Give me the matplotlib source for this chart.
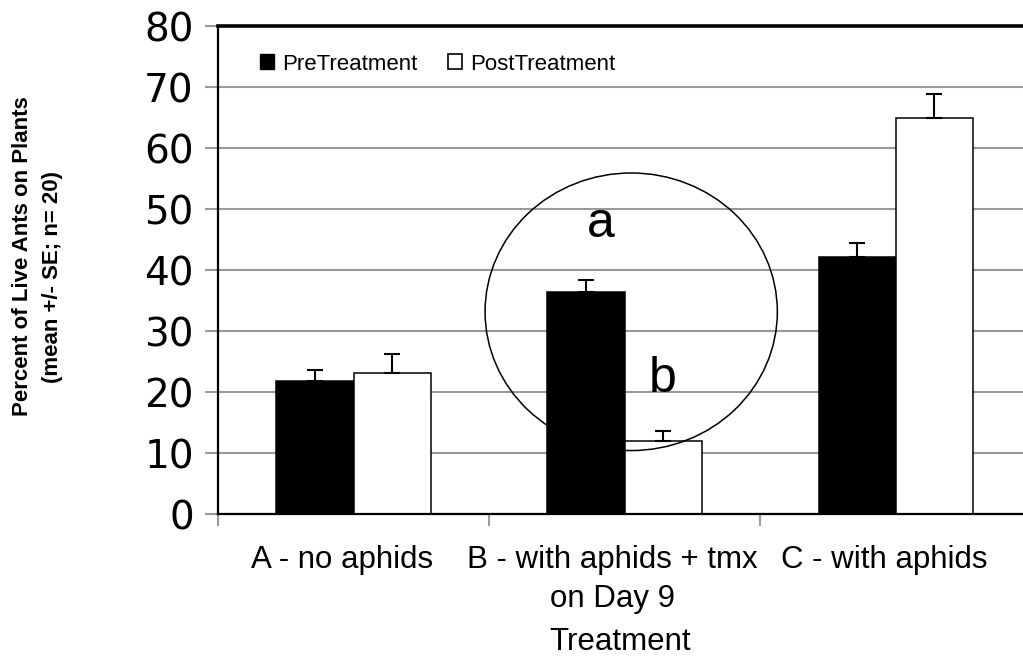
import numpy as np
import matplotlib
matplotlib.use("Agg")
import matplotlib.pyplot as plt
from matplotlib.patches import Patch, Ellipse
from matplotlib.transforms import ScaledTranslation

# ── DATA ──────────────────────────────────────────────────────────────────────
treatments = ["A - no aphids", "B - with aphids + tmx\non Day 9", "C - with aphids"]
pre_mean   = [21.8, 36.5, 42.2]
pre_se     = [1.85, 1.9, 2.2]
post_mean  = [23.1, 12.0, 65.0]
post_se    = [3.2, 1.7, 3.9]
y_ticks    = [0, 10, 20, 30, 40, 50, 60, 70, 80]

# significance letters (x in category units, y = baseline in %)
sig_letters = [("a", 0.913, 45.5), ("b", 1.140, 20.0)]

# ── STYLE ─────────────────────────────────────────────────────────────────────
SANS  = "Liberation Sans"
GRID  = "#999999"
BAR_W = 0.285

fig = plt.figure(figsize=(10.23, 6.67), dpi=100)
ax = fig.add_axes([218 / 1023, 152.7 / 667, 805 / 1023, 488 / 667])

x = np.arange(len(treatments))

ax.bar(x - BAR_W / 2, pre_mean, width=BAR_W, color="black",
       edgecolor="black", linewidth=1.1, zorder=2, label="PreTreatment")
ax.bar(x + BAR_W / 2, post_mean, width=BAR_W, color="white",
       edgecolor="black", linewidth=1.1, zorder=2, label="PostTreatment")

# upper-only standard error bars
ax.errorbar(x - BAR_W / 2, pre_mean, yerr=[np.zeros(3), pre_se], fmt="none",
            ecolor="black", elinewidth=1.5, capsize=6, capthick=1.5, zorder=3)
ax.errorbar(x + BAR_W / 2, post_mean, yerr=[np.zeros(3), post_se], fmt="none",
            ecolor="black", elinewidth=1.5, capsize=6, capthick=1.5, zorder=3)

ax.set_xlim(-0.5, 2.469)
ax.set_ylim(0, 80)

# ── AXES / TICKS ──────────────────────────────────────────────────────────────
ax.set_yticks(y_ticks)
ax.set_yticklabels([str(v) for v in y_ticks], family="DejaVu Sans", fontsize=28)
ax.tick_params(axis="y", length=9.4, width=1.5, color=GRID, pad=8)

ax.set_xticks(x)
ax.set_xticklabels(treatments, family=SANS, fontsize=22.5, linespacing=1.4)
ax.tick_params(axis="x", which="major", length=0, pad=22)
ax.set_xticks([-0.5, 0.5, 1.5], minor=True)
ax.tick_params(axis="x", which="minor", length=8.5, width=1.5, color=GRID,
               direction="out")
shift = ScaledTranslation(-12 / 100, 0, fig.dpi_scale_trans)
for lbl in ax.get_xticklabels():
    lbl.set_transform(lbl.get_transform() + shift)

ax.yaxis.grid(True, color=GRID, lw=1.5)
ax.set_axisbelow(True)

ax.spines["right"].set_visible(False)
ax.spines["left"].set_linewidth(1.6)
ax.spines["top"].set_linewidth(2.6)
ax.spines["bottom"].set_linewidth(1.6)
for s in ("left", "top", "bottom"):
    ax.spines[s].set_color("black")

# ── ANNOTATIONS ───────────────────────────────────────────────────────────────
ax.add_patch(Ellipse((1.024, 33.2), width=1.078, height=45.5, fill=False,
                     edgecolor="black", linewidth=1.1, zorder=4))
for txt, tx, ty in sig_letters:
    ax.text(tx, ty, txt, ha="center", va="baseline", family=SANS,
            fontsize=36, zorder=5)

# ── LABELS ────────────────────────────────────────────────────────────────────
fig.text(620.5 / 1023, 1 - 642 / 667, "Treatment", ha="center", va="center",
         family=SANS, fontsize=22.5)
fig.text(23 / 1023, 1 - 256.5 / 667, "Percent of Live Ants on Plants",
         rotation=90, ha="center", va="center", family=SANS,
         fontweight="bold", fontsize=16)
fig.text(53 / 1023, 1 - 277 / 667, "(mean +/- SE; n= 20)",
         rotation=90, ha="center", va="center", family=SANS,
         fontweight="bold", fontsize=16)

handles = [Patch(facecolor="black", edgecolor="black", lw=1.0),
           Patch(facecolor="white", edgecolor="black", lw=1.2)]
ax.legend(handles, ["PreTreatment", "PostTreatment"], ncol=2, frameon=False,
          loc="center left", bbox_to_anchor=(42 / 805, 0.9227),
          borderpad=0, borderaxespad=0, handlelength=0.63, handleheight=0.63,
          handletextpad=0.36, columnspacing=1.4,
          prop={"family": SANS, "size": 16})

fig.savefig("out.png", dpi=100)
